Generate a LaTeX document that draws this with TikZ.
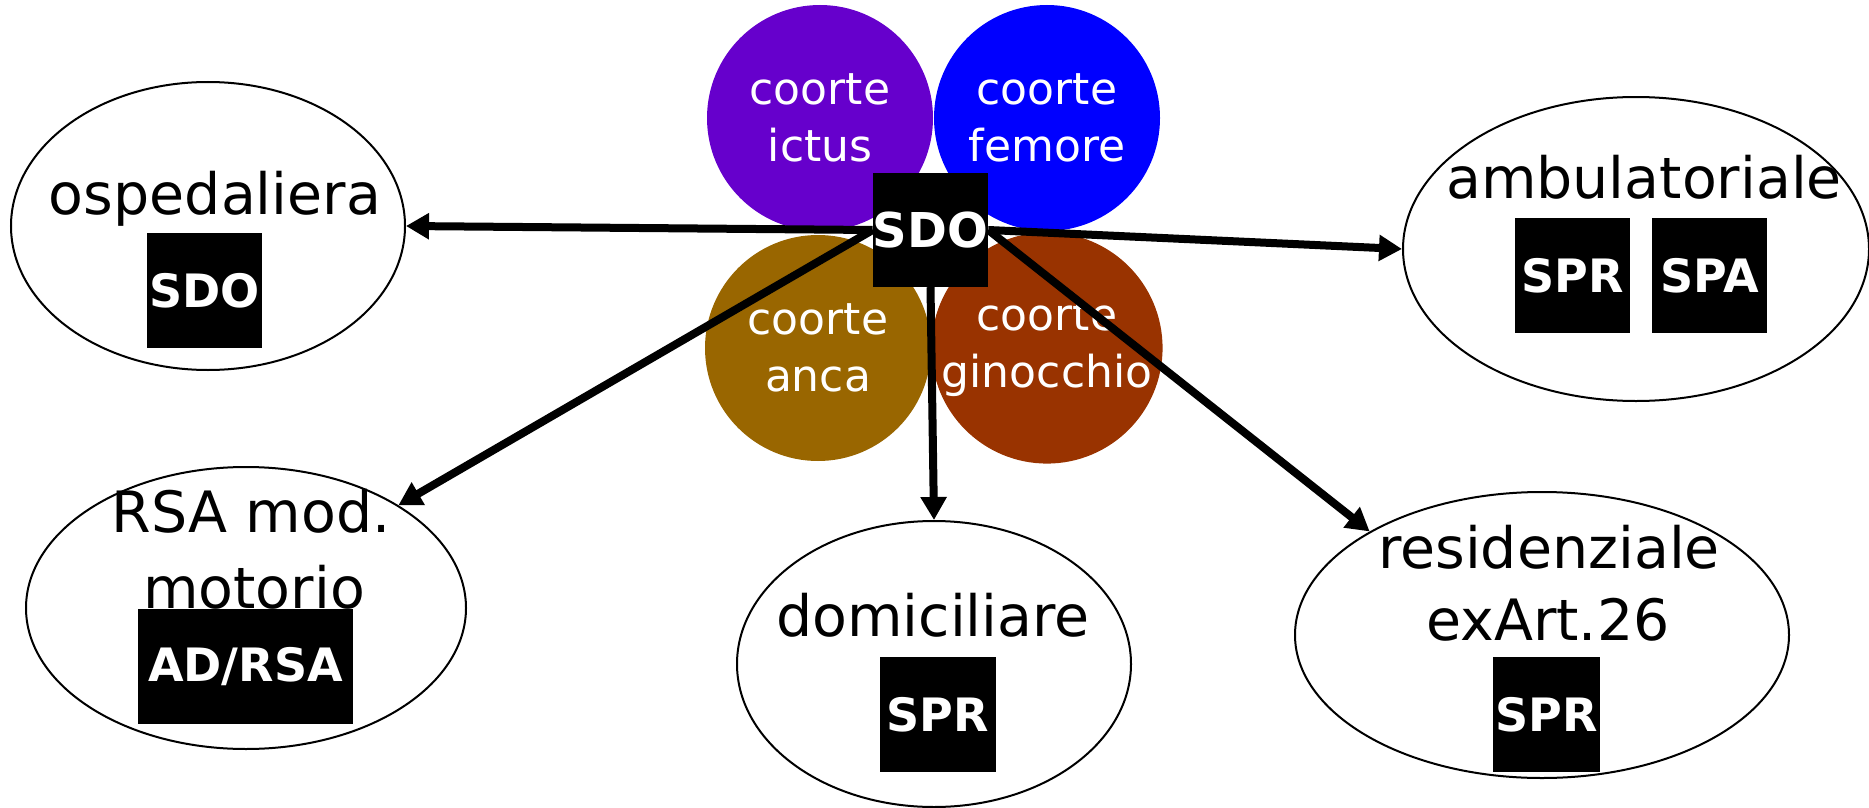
\documentclass[tikz,border=0pt]{standalone}
\usepackage{fontspec}
\setmainfont{DejaVu Sans}
\usetikzlibrary{shapes.geometric,arrows.meta}

\definecolor{ictuscol}{HTML}{6600CC}
\definecolor{femorecol}{HTML}{0000FF}
\definecolor{ancacol}{HTML}{996600}
\definecolor{ginocol}{HTML}{993300}

\begin{document}
\begin{tikzpicture}[x=1pt,y=-1pt,
  cohort/.style={circle, inner sep=0pt, minimum size=226pt, text=white, align=center, font=\fontsize{44}{57}\selectfont},
  setting/.style={draw, ellipse, line width=2pt, inner sep=0pt},
  stagetext/.style={inner sep=0pt, anchor=base, font=\fontsize{57}{57}\selectfont},
  tag/.style={fill=black, text=white, inner sep=0pt, minimum height=115pt, font=\fontsize{46}{46}\selectfont\bfseries},
  link/.style={line width=8pt, -{Triangle[length=23pt,width=25pt]}}]
\useasboundingbox (0,0) rectangle (1869,808);
% cohorts
\node[cohort, fill=ictuscol](ictus) at (820,118){coorte\\ictus};
\node[cohort, fill=femorecol](femore) at (1047,118){coorte\\femore};
\node[cohort, fill=ancacol](anca) at (818,348){coorte\\anca};
\node[cohort, fill=ginocol](gino) at (1047,348){coorte\\ginocchio};
\node[tag, minimum width=115pt, minimum height=114pt, font=\fontsize{48}{48}\selectfont\bfseries](sdo) at (930.5,230){SDO};
% settings
\node[setting, minimum width=394pt, minimum height=288pt](osp) at (208,226){};
\node[stagetext](ospt) at (215,214){ospedaliera};
\node[tag, minimum width=115pt](osptag) at (204.5,290.5){SDO};
\node[setting, minimum width=466pt, minimum height=304pt](amb) at (1636,249){};
\node[stagetext](ambt) at (1644,198){ambulatoriale};
\node[tag, minimum width=115pt](ambspr) at (1572.5,275.5){SPR};
\node[tag, minimum width=115pt](ambspa) at (1709.5,275.5){SPA};
\node[setting, minimum width=440pt, minimum height=282pt](rsa) at (246,608){};
\node[stagetext](rsat) at (251,532){RSA mod.};
\node[stagetext](rsam) at (254,608){motorio};
\node[tag, minimum width=215pt](rsatag) at (245.5,666.5){AD/RSA};
\node[setting, minimum width=394pt, minimum height=286pt](dom) at (934,664){};
\node[stagetext](domt) at (933,636){domiciliare};
\node[tag, minimum width=116pt](domtag) at (938,714.5){SPR};
\node[setting, minimum width=494pt, minimum height=286pt](res) at (1542,635){};
\node[stagetext](rest) at (1549,568){residenziale};
\node[stagetext](resa) at (1548,640){exArt.26};
\node[tag, minimum width=107pt](restag) at (1546.5,714.5){SPR};
% links
\draw[link] (sdo.west) -- (osp.east);
\draw[link] (sdo.west) -- (rsa.34);
\draw[link] (sdo.south) -- (dom.north);
\draw[link] (sdo.east) -- (amb.west);
\draw[link] (sdo.east) -- (res.149);
\end{tikzpicture}
\end{document}
